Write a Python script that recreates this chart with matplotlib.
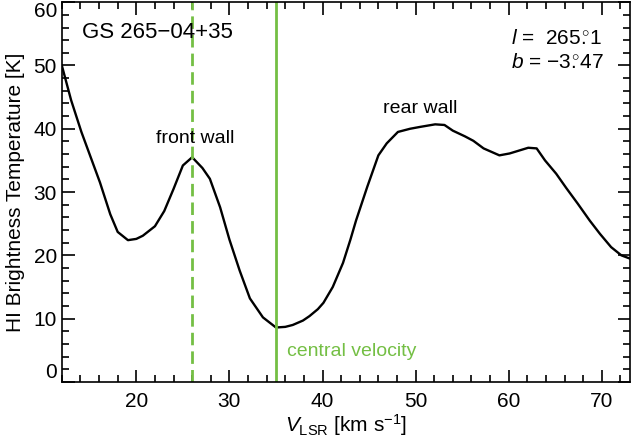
import matplotlib
matplotlib.use("Agg")
import matplotlib.pyplot as plt
from matplotlib.ticker import MultipleLocator

plt.rcParams['font.family'] = ['Liberation Sans', 'DejaVu Sans']
plt.rcParams['mathtext.fontset'] = 'custom'
plt.rcParams['mathtext.rm'] = 'Liberation Sans'
plt.rcParams['mathtext.it'] = 'Liberation Sans:italic'
plt.rcParams['mathtext.bf'] = 'Liberation Sans:bold'

# HI spectrum
velocity = [12.0, 13.0, 14.1, 15.1, 16.1, 17.2, 18.0, 19.1, 20.0, 20.7, 22.0, 23.0,
            24.0, 25.0, 26.0, 27.1, 27.9, 29.0, 30.0, 31.1, 32.2, 33.6, 35.0, 36.0,
            36.8, 37.9, 38.6, 39.5, 40.1, 41.1, 42.2, 43.0, 43.6, 44.8, 46.0, 46.9,
            48.1, 49.4, 50.5, 52.1, 53.1, 54.0, 55.3, 56.2, 57.3, 59.0, 60.1, 62.1,
            63.0, 63.9, 65.1, 66.2, 67.4, 68.7, 69.8, 71.0, 72.1, 73.0]
tb = [50.0, 44.5, 39.5, 35.5, 31.5, 26.5, 23.7, 22.4, 22.6, 23.1, 24.6, 27.0,
      30.5, 34.2, 35.5, 33.8, 32.1, 27.6, 22.5, 17.6, 13.2, 10.2, 8.6, 8.7,
      9.0, 9.7, 10.4, 11.5, 12.5, 15.0, 18.8, 22.5, 25.5, 30.8, 35.8, 37.7,
      39.5, 40.0, 40.3, 40.7, 40.6, 39.7, 38.8, 38.1, 36.9, 35.8, 36.1, 37.0,
      36.9, 35.0, 32.9, 30.6, 28.2, 25.5, 23.4, 21.3, 20.0, 19.5]

x_ticks = [20, 30, 40, 50, 60, 70]
y_ticks = [0, 10, 20, 30, 40, 50, 60]

front_wall_v = 26.0
central_v = 35.0
green = '#74bf44'

fig = plt.figure(figsize=(6.31, 4.38), dpi=100)
ax = fig.add_axes([0.098, 0.128, 0.9, 0.867])

ax.plot(velocity, tb, color='black', lw=1.7)
ax.axvline(front_wall_v, color=green, lw=2, dashes=(4.5, 2.2))
ax.axvline(central_v, color=green, lw=2)

ax.set_xlim(12, 73)
ax.set_ylim(0, 60)
ax.set_xticks(x_ticks)
ax.set_yticks(y_ticks)
ax.xaxis.set_minor_locator(MultipleLocator(2))
ax.yaxis.set_minor_locator(MultipleLocator(2))
ax.tick_params(which='both', direction='in', top=True, right=True, labelsize=15, width=1.2)
ax.tick_params(axis='x', which='major', pad=7)
ax.tick_params(which='major', length=9)
ax.tick_params(which='minor', length=5)
for s in ax.spines.values():
    s.set_linewidth(1.2)

# keep the end labels inside the figure, like the original
yt = ax.yaxis.get_major_ticks()
yt[0].label1.set_va('bottom')
yt[-1].label1.set_va('top')

ax.set_xlabel(r'$V_{\rm LSR}$ [km s$^{-1}$]', fontsize=15, labelpad=1)
ax.set_ylabel('HI Brightness Temperature [K]', fontsize=15, labelpad=6)

ax.text(14.2, 55.2, 'GS 265\u221204+35', fontsize=16, va='center', ha='left')
ax.text(60.2, 54.3, r'$l$ =  265$\overset{\circ}{.}$1', fontsize=15, va='center', ha='left')
ax.text(60.2, 50.5, r'$b$ = $-$3$\overset{\circ}{.}$47', fontsize=15, va='center', ha='left')
ax.text(26.3, 38.5, 'front wall', fontsize=14, ha='center', va='center')
ax.text(50.5, 43.2, 'rear wall', fontsize=14, ha='center', va='center')
ax.text(36.2, 4.8, 'central velocity', fontsize=14, ha='left', va='center', color=green)

fig.savefig('out.png', dpi=100)
